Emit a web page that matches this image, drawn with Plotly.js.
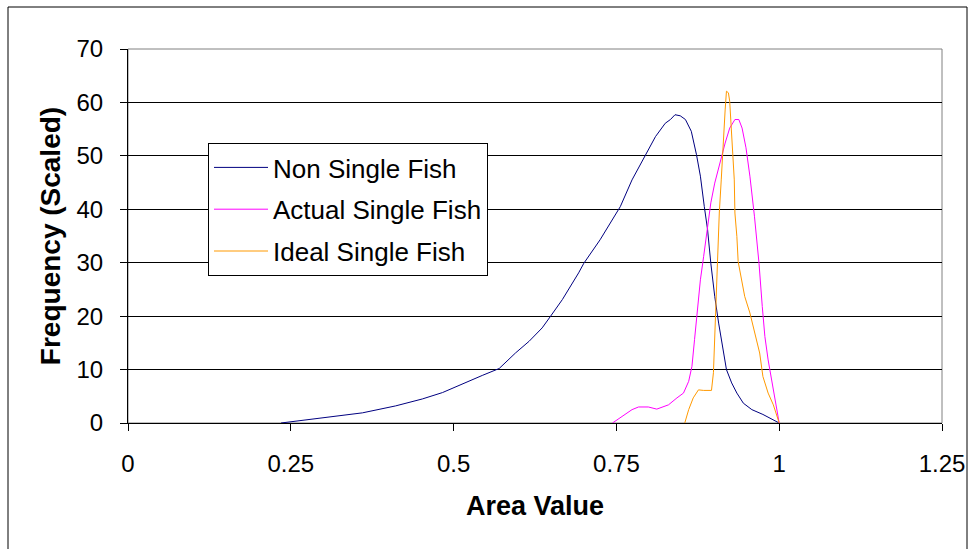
<!DOCTYPE html>
<html>
<head>
<meta charset="utf-8">
<script src="https://cdn.plot.ly/plotly-3.0.1.min.js"></script>
<style>
html,body{margin:0;padding:0;background:#fff;}
#chart{width:972px;height:549px;}
</style>
</head>
<body>
<div id="chart"></div>
<script>
// Series names
const seriesNames = ["Non Single Fish", "Actual Single Fish", "Ideal Single Fish"];

// Non Single Fish
const nonX = [0.235,0.284,0.360,0.411,0.452,0.483,0.514,0.544,0.570,0.595,0.616,0.636,0.649,0.667,0.692,0.700,0.725,0.756,0.774,0.794,0.810,0.825,0.833,0.840,0.848,0.856,0.865,0.873,0.879,0.885,0.890,0.895,0.901,0.907,0.913,0.919,0.927,0.935,0.945,0.958,0.975,1.0];
const nonY = [0,0.75,1.9,3.2,4.5,5.7,7.4,8.9,10.2,13.1,15.3,17.8,20.0,23.1,28.1,29.9,34.3,40.5,45.5,49.9,53.6,56.1,56.8,57.7,57.5,56.8,54.6,50.2,46.2,40.5,36.2,29.9,23.7,18.7,14.3,10.0,7.5,5.6,3.7,2.5,1.6,0];

// Actual Single Fish
const actX = [0.744,0.759,0.774,0.784,0.799,0.812,0.830,0.843,0.853,0.861,0.866,0.870,0.875,0.879,0.884,0.889,0.895,0.901,0.909,0.917,0.924,0.932,0.938,0.943,0.949,0.955,0.962,0.969,0.974,0.978,0.983,0.988,0.993,1.0];
const actY = [0,1.2,2.5,3.0,3.0,2.6,3.4,4.7,5.6,7.8,10.6,15.6,21.8,26.8,31.2,35.6,41.2,44.9,48.7,52.4,55.2,56.8,56.8,55.2,51.5,46.2,38.7,29.9,21.8,16.2,11.8,8.1,4.4,0];

// Ideal Single Fish
const idealX = [0.855,0.861,0.868,0.876,0.884,0.896,0.899,0.901,0.904,0.908,0.911,0.914,0.917,0.919,0.922,0.924,0.926,0.928,0.931,0.932,0.935,0.937,0.942,0.947,0.955,0.963,0.970,0.975,0.983,0.991,1.0];
const idealY = [0,2.5,4.7,6.2,6.1,6.1,9.4,16.8,26.8,39.3,45.5,53.6,58.6,62.1,61.8,60.2,56.1,52.4,45.5,39.3,34.9,30.2,26.8,23.7,20.6,16.8,13.1,8.7,5.6,3.4,0];

// Axis ticks
const xTicks = [0, 0.25, 0.5, 0.75, 1, 1.25];
const xTickText = ["0", "0.25", "0.5", "0.75", "1", "1.25"];
const yTicks = [0, 10, 20, 30, 40, 50, 60, 70];

const colors = ["#000080", "#FF00FF", "#FF9900"];
const FONT = "Liberation Sans, Arial, sans-serif";

const traces = [
  {x: nonX, y: nonY, name: seriesNames[0], legendgroup: "a", mode: "lines", line: {color: colors[0], width: 1}},
  {x: actX, y: actY, name: seriesNames[1], legendgroup: "b", mode: "lines", line: {color: colors[1], width: 1}},
  {x: idealX, y: idealY, name: seriesNames[2], legendgroup: "c", mode: "lines", line: {color: colors[2], width: 1}}
];

const W = 814, H = 374, L = 128, T = 49;
const px = v => (v - L) / W;
const py = v => (T + H - v) / H;

const layout = {
  width: 972, height: 549,
  margin: {l: L, r: 972 - L - W, t: T, b: 549 - T - H, pad: 0},
  paper_bgcolor: "#ffffff",
  plot_bgcolor: "#ffffff",
  font: {family: FONT, color: "#000000", size: 24},
  showlegend: true,
  legend: {
    x: px(208), y: py(143), xanchor: "left", yanchor: "top",
    bgcolor: "#ffffff", bordercolor: "#000000", borderwidth: 1,
    font: {family: FONT, size: 26, color: "#000"},
    tracegroupgap: 5, itemwidth: 54
  },
  xaxis: {
    range: [0, 1.25], tickvals: xTicks, ticktext: xTickText,
    showgrid: false, zeroline: false,
    showline: true, linecolor: "#000", linewidth: 1,
    ticks: "outside", ticklen: 7, tickcolor: "#000", tickwidth: 1,
    ticklabelstandoff: 12,
    tickfont: {family: FONT, size: 24, color: "#000"},
    title: {text: "Area Value", font: {family: FONT, size: 27, color: "#000", weight: "bold"}, standoff: 20},
    automargin: false, fixedrange: true
  },
  yaxis: {
    range: [0, 70], tickvals: yTicks,
    showgrid: true, gridcolor: "#000000", gridwidth: 1,
    zeroline: false,
    showline: true, linecolor: "#000", linewidth: 1,
    ticks: "outside", ticklen: 7, tickcolor: "#000", tickwidth: 1,
    ticklabelstandoff: 12,
    tickfont: {family: FONT, size: 24, color: "#000"},
    title: {text: "Frequency (Scaled)", font: {family: FONT, size: 28, color: "#000", weight: "bold"}, standoff: 7},
    automargin: false, fixedrange: true
  },
  shapes: [
    {type: "rect", xref: "paper", yref: "paper", x0: 0, x1: 1, y0: 0, y1: 1,
     line: {color: "#808080", width: 1}, layer: "below"},
    {type: "rect", xref: "paper", yref: "paper", x0: px(8), x1: px(967), y0: py(570), y1: py(7),
     line: {color: "#000000", width: 1}, layer: "below"}
  ]
};

Plotly.newPlot("chart", traces, layout, {displayModeBar: false, staticPlot: true});
</script>
</body>
</html>
